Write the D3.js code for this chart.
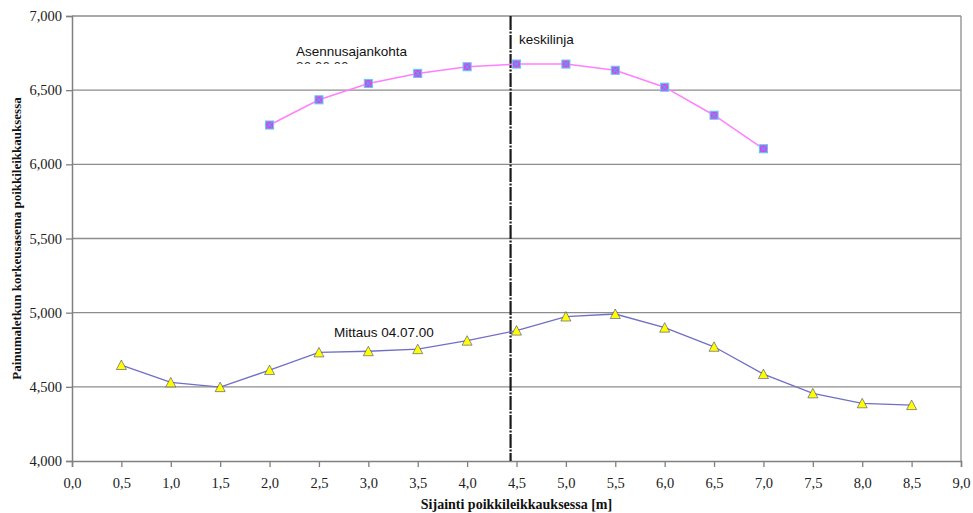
<!DOCTYPE html>
<html>
<head>
<meta charset="utf-8">
<script src="https://cdn.jsdelivr.net/npm/d3@7"></script>
<style>
  html, body { margin: 0; padding: 0; background: #fff; }
  svg { display: block; }
</style>
</head>
<body>
<svg id="chart" width="973" height="513"></svg>
<script>
// Cross-section positions [m]
const installPos = [2.0, 2.5, 3.0, 3.5, 4.0, 4.5, 5.0, 5.5, 6.0, 6.5, 7.0];
const installLevel = [6265, 6435, 6545, 6613, 6658, 6676, 6676, 6634, 6520, 6331, 6105];

const measurePos = [0.5, 1.0, 1.5, 2.0, 2.5, 3.0, 3.5, 4.0, 4.5, 5.0, 5.5, 6.0, 6.5, 7.0, 7.5, 8.0, 8.5];
const measureLevel = [4647, 4530, 4498, 4613, 4732, 4740, 4754, 4811, 4879, 4974, 4991, 4899, 4770, 4586, 4456, 4389, 4377];

const centerLine = 4.44;

const xTicks = [0, 0.5, 1, 1.5, 2, 2.5, 3, 3.5, 4, 4.5, 5, 5.5, 6, 6.5, 7, 7.5, 8, 8.5, 9];
const yTicks = [4000, 4500, 5000, 5500, 6000, 6500, 7000];

const labels = {
  install: "Asennusajankohta",
  installDate: "26.06.00",
  measure: "Mittaus 04.07.00",
  center: "keskilinja",
  xTitle: "Sijainti poikkileikkauksessa [m]",
  yTitle: "Painumaletkun korkeusasema poikkileikkauksessa"
};

const svg = d3.select("#chart");
const plotL = 72, plotR = 961, plotT = 16, plotB = 461;

const x = d3.scaleLinear().domain([0, 9]).range([plotL, plotR]);
const y = d3.scaleLinear().domain([4000, 7000]).range([plotB, plotT]);

const fi1 = v => d3.format(".1f")(v).replace(".", ",");
const fiThousands = v => d3.format(",")(v);

// horizontal gridlines
svg.append("g")
  .selectAll("line")
  .data(yTicks.filter(v => v > 4000))
  .join("line")
  .attr("x1", plotL).attr("x2", plotR)
  .attr("y1", d => y(d)).attr("y2", d => y(d))
  .attr("stroke", "#8c8c8c").attr("stroke-width", 1.3);

// right border of plot area
svg.append("line")
  .attr("x1", plotR).attr("x2", plotR)
  .attr("y1", plotT).attr("y2", plotB)
  .attr("stroke", "#8c8c8c").attr("stroke-width", 1.3);

// axes
const serif = "'Liberation Serif', 'Times New Roman', serif";
const sans = "'Liberation Sans', Arial, sans-serif";

const yAxis = svg.append("g")
  .attr("transform", `translate(${plotL},0)`)
  .call(d3.axisLeft(y).tickValues(yTicks).tickFormat(fiThousands).tickSize(6).tickPadding(4));
const xAxis = svg.append("g")
  .attr("transform", `translate(0,${plotB})`)
  .call(d3.axisBottom(x).tickValues(xTicks).tickFormat(fi1).tickSize(6).tickPadding(11));

[yAxis, xAxis].forEach(a => {
  a.select(".domain").attr("stroke", "#808080").attr("stroke-width", 1.5);
  a.selectAll(".tick line").attr("stroke", "#808080").attr("stroke-width", 1.3);
  a.selectAll(".tick text")
    .attr("fill", "#222")
    .style("font-family", serif)
    .style("font-size", "14.5px");
});

// center line
svg.append("line")
  .attr("x1", x(centerLine)).attr("x2", x(centerLine))
  .attr("y1", plotT).attr("y2", plotB)
  .attr("stroke", "#1a1a1a").attr("stroke-width", 2.2)
  .attr("stroke-dasharray", "14,1.5,2,1.5");

// series lines
const line = d3.line().x(d => x(d[0])).y(d => y(d[1]));
const installData = installPos.map((p, i) => [p, installLevel[i]]);
const measureData = measurePos.map((p, i) => [p, measureLevel[i]]);

svg.append("path").datum(measureData)
  .attr("d", line).attr("fill", "none")
  .attr("stroke", "#6f6fc8").attr("stroke-width", 1.3);

svg.append("path").datum(installData)
  .attr("d", line).attr("fill", "none")
  .attr("stroke", "#ff7fff").attr("stroke-width", 1.5);

// installation markers: square with cross
const sq = svg.append("g").selectAll("g").data(installData).join("g")
  .attr("transform", d => `translate(${x(d[0])},${y(d[1])})`);
sq.append("rect")
  .attr("x", -4).attr("y", -4).attr("width", 8).attr("height", 8)
  .attr("fill", "#e63ce8").attr("stroke", "#66c8f2").attr("stroke-width", 1.1);
sq.append("path")
  .attr("d", "M-2.8,-2.8L2.8,2.8M-2.8,2.8L2.8,-2.8")
  .attr("stroke", "#4aa8ee").attr("stroke-width", 1.1);

// measurement markers: triangles
svg.append("g").selectAll("path").data(measureData).join("path")
  .attr("transform", d => `translate(${x(d[0])},${y(d[1])})`)
  .attr("d", "M0,-5L5,4.5L-5,4.5Z")
  .attr("fill", "#ffff00").attr("stroke", "#2a2a80").attr("stroke-width", 0.7)
  .attr("stroke-opacity", 0.75);

// annotations: the date line under the installation label is cut off by its text box
svg.append("defs").append("clipPath").attr("id", "dateClip")
  .append("rect").attr("x", 290).attr("y", 58).attr("width", 120).attr("height", 6);

svg.append("text").attr("x", 296).attr("y", 56)
  .style("font-family", sans).style("font-size", "13.5px").attr("fill", "#111")
  .text(labels.install);
svg.append("g").attr("clip-path", "url(#dateClip)")
  .append("text").attr("x", 296).attr("y", 71.2)
  .style("font-family", sans).style("font-size", "13.5px").attr("fill", "#333")
  .text(labels.installDate);
svg.append("text").attr("x", 519).attr("y", 44)
  .style("font-family", sans).style("font-size", "13.5px").attr("fill", "#111")
  .text(labels.center);
svg.append("text").attr("x", 334).attr("y", 337)
  .style("font-family", sans).style("font-size", "13.5px").attr("fill", "#111")
  .text(labels.measure);

// axis titles
svg.append("text")
  .attr("x", (plotL + plotR) / 2).attr("y", 509)
  .attr("text-anchor", "middle")
  .style("font-family", serif).style("font-size", "14px").style("font-weight", "bold")
  .attr("fill", "#111")
  .text(labels.xTitle);
svg.append("text")
  .attr("transform", `translate(21,${(plotT + plotB) / 2}) rotate(-90)`)
  .attr("text-anchor", "middle")
  .style("font-family", serif).style("font-size", "13px").style("font-weight", "bold")
  .attr("fill", "#111")
  .text(labels.yTitle);
</script>
</body>
</html>
